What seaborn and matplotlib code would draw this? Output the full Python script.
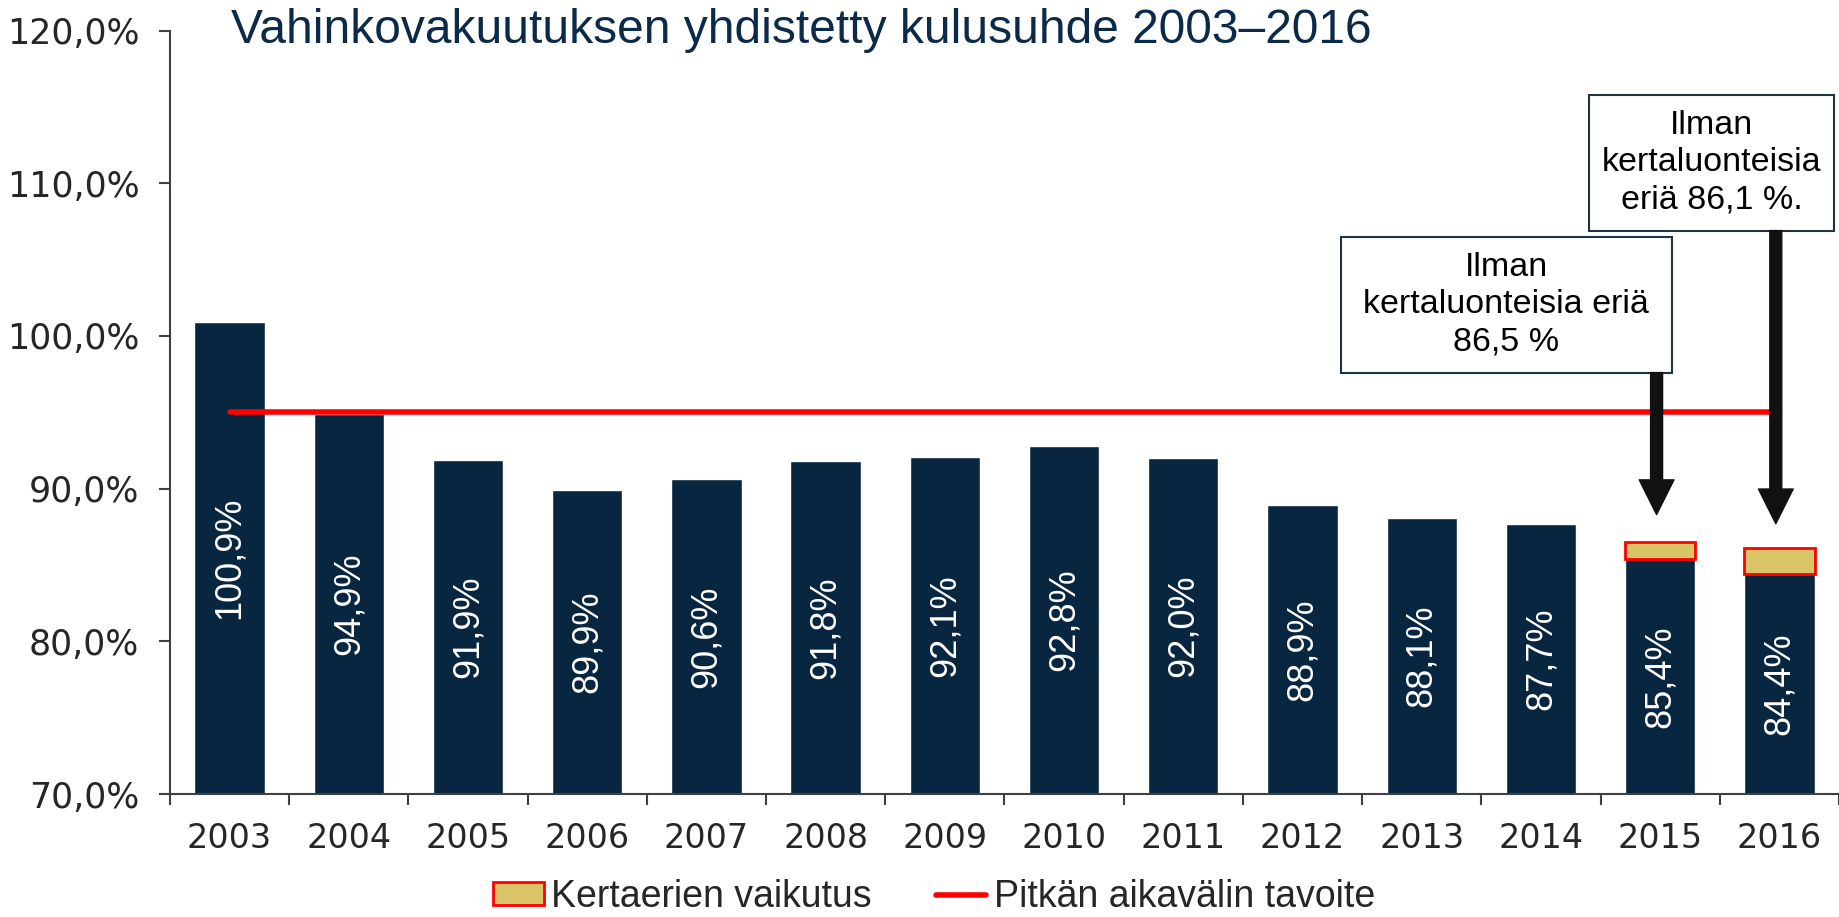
import seaborn as sns
import matplotlib.pyplot as plt
import matplotlib.patches as mpatches
from matplotlib.patches import ArrowStyle
import pandas as pd

# combined ratio of non-life insurance, per year
years = ['2003', '2004', '2005', '2006', '2007', '2008', '2009',
         '2010', '2011', '2012', '2013', '2014', '2015', '2016']
ratio = [100.9, 94.9, 91.9, 89.9, 90.6, 91.8, 92.1,
         92.8, 92.0, 88.9, 88.1, 87.7, 85.4, 84.4]

# one-off items (2015 and 2016): ratio without them
one_off_years = ['2015', '2016']
without_one_off = [86.5, 86.1]
box_texts = ['Ilman\nkertaluonteisia eriä\n86,5 %',
             'Ilman\nkertaluonteisia\neriä 86,1 %.']

target = 95.0
y_ticks = [70, 80, 90, 100, 110, 120]

navy = '#082640'
yellow = '#D9C468'
red = '#FF0000'

df = pd.DataFrame({'year': years, 'ratio': ratio})

sns.set_style('white')
plt.rcParams['font.family'] = ['Liberation Sans', 'DejaVu Sans']

fig = plt.figure(figsize=(18.39, 9.17), dpi=100)
ax = fig.add_axes([0.0924, 0.1341, 0.9076, 0.8326])

bar_w = 0.59
sns.barplot(data=df, x='year', y='ratio', color=navy, width=bar_w,
            saturation=1, ax=ax)

# yellow part = effect of one-off items
idx = [years.index(y) for y in one_off_years]
base = [ratio[i] for i in idx]
ax.bar(idx, [w - b for w, b in zip(without_one_off, base)], bottom=base,
       width=bar_w, color=yellow, edgecolor=red, linewidth=2,
       label='Kertaerien vaikutus', zorder=3)

# long term target line
ax.plot([0, len(years) - 1], [target, target], color=red, lw=4,
        label='Pitkän aikavälin tavoite', zorder=4)

ax.set_ylim(70, 120)
ax.set_xlim(-0.5, len(years) - 0.5)

# values inside the bars
for i, v in enumerate(ratio):
    ax.text(i, (70 + v) / 2, f'{v:.1f}%'.replace('.', ','), rotation=90,
            color='white', fontsize=26, ha='center', va='center', zorder=5)

# annotation boxes with arrows
boxes = [(9.32, 97.6, 2.78, 8.9), (11.40, 106.9, 2.06, 8.9)]
arrow_tips = [88.3, 87.7]
arrow_x = [11.97, 12.97]
for (bx, by, bw, bh), txt, ax_x, tip in zip(boxes, box_texts, arrow_x, arrow_tips):
    ax.add_patch(mpatches.Rectangle((bx, by), bw, bh, facecolor='white',
                                    edgecolor='#1f3440', lw=1.5,
                                    clip_on=False, zorder=6))
    ax.text(bx + bw / 2, by + bh / 2, txt, ha='center', va='center',
            fontsize=24.5, linespacing=1.25, color='black', zorder=7)
    ax.annotate('', xy=(ax_x, tip), xytext=(ax_x, by),
                arrowprops=dict(arrowstyle=ArrowStyle.Simple(head_length=25, head_width=25, tail_width=8.6),
                                mutation_scale=1, color='#111111',
                                shrinkA=0, shrinkB=0), zorder=6)

# axes styling
ax.set_yticks(y_ticks)
ax.set_yticklabels([f'{t:.1f}%'.replace('.', ',') for t in y_ticks],
                   fontsize=25, color='#262626', family='DejaVu Sans')
ax.set_xticks(range(len(years)))
ax.set_xticklabels(years, fontsize=24, color='#262626', family='DejaVu Sans')
ax.set_xticks([i - 0.5 for i in range(len(years) + 1)], minor=True)
ax.tick_params(axis='x', which='major', length=0, pad=20)
ax.tick_params(axis='x', which='minor', length=8, width=1.5, color='#404040',
               direction='out', bottom=True)
ax.tick_params(axis='y', length=8, width=1.5, color='#404040',
               direction='out', left=True, pad=14)
ax.set_xlabel('')
ax.set_ylabel('')
for s in ['top', 'right']:
    ax.spines[s].set_visible(False)
for s in ['left', 'bottom']:
    ax.spines[s].set_color('#404040')
    ax.spines[s].set_linewidth(1.5)

fig.text(0.1256, 0.967, 'Vahinkovakuutuksen yhdistetty kulusuhde 2003–2016',
         fontsize=34.5, color='#0B2A4A', ha='left', va='center')

handles, labels = ax.get_legend_handles_labels()
order = [labels.index('Kertaerien vaikutus'), labels.index('Pitkän aikavälin tavoite')]
fig.legend([handles[i] for i in order], [labels[i] for i in order],
           loc='center', bbox_to_anchor=(0.508, 0.022), ncol=2,
           frameon=False, borderpad=0, handlelength=1.35, handleheight=0.55,
           handletextpad=0.2, columnspacing=1.7,
           prop={'family': 'Liberation Sans', 'size': 27})

fig.savefig('out.png', dpi=100)
